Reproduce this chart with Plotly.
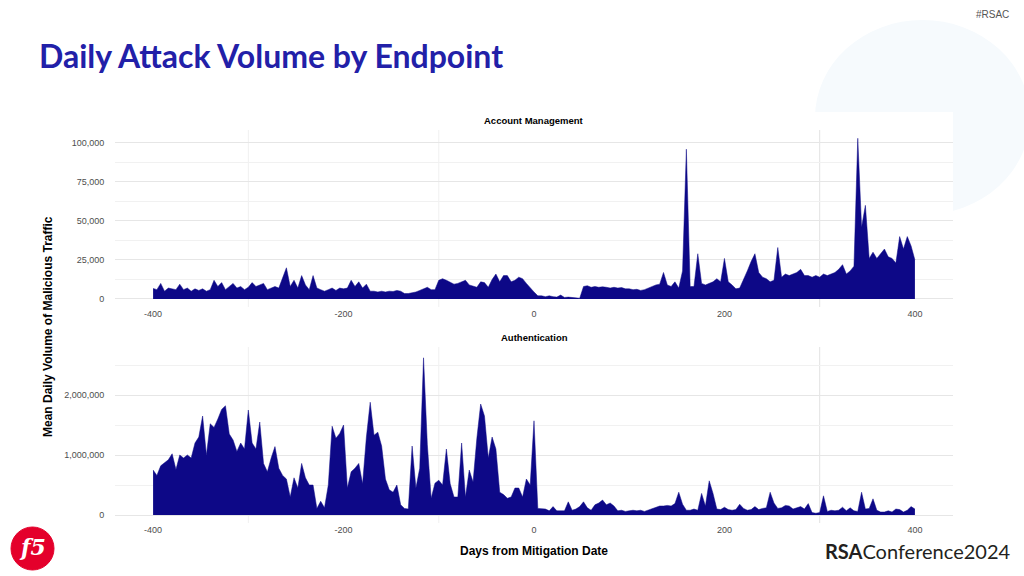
import plotly.graph_objects as go

W, H = 1024, 576

# ---------------- data ----------------
days = list(range(-400, 401, 4))

account_mgmt = [
    6800, 6000, 10000, 5000, 7000, 6500, 6000, 9500, 6000, 7000,      # -400..-364
    5000, 6500, 5500, 6500, 5000, 6000, 12000, 8000, 10500, 6000,     # -360..-324
    8000, 10000, 7000, 8000, 6000, 7500, 10500, 8000, 9000, 10000,    # -320..-284
    6000, 7000, 8000, 7000, 13000, 20000, 8000, 12000, 7000, 15000,   # -280..-244
    9000, 6000, 15000, 7000, 6000, 5000, 6000, 7000, 5500, 7000,      # -240..-204
    6500, 7000, 12000, 8000, 11000, 7000, 9500, 5000, 5000, 4500,     # -200..-164
    5000, 4500, 5000, 4800, 5500, 5000, 3500, 3500, 4000, 4500,       # -160..-124
    5500, 6500, 7500, 6000, 6000, 12000, 13000, 12000, 11000, 9500,   # -120..-84
    10000, 11000, 12000, 9000, 8000, 7500, 11000, 10500, 7500, 12500, # -80..-44
    16000, 11000, 15000, 15000, 11000, 12000, 14000, 13000, 10000, 7000,  # -40..-4
    4500, 2000, 2000, 1500, 2000, 1500, 1200, 2500, 1000, 1200,       # 0..36
    1000, 800, 500, 8000, 8500, 7500, 8000, 7500, 7800, 7500,         # 40..76
    7000, 7500, 7000, 7300, 6500, 6500, 6000, 6200, 5500, 6000,       # 80..116
    7000, 8500, 9000, 9500, 17000, 9000, 8000, 11000, 7000, 18000,    # 120..156
    96000, 8000, 8000, 29000, 10000, 9000, 10000, 11000, 13000, 11000,  # 160..196
    26000, 11000, 9000, 6500, 7000, 12000, 18000, 24000, 29000, 17000,  # 200..236
    14000, 13000, 11000, 12000, 33000, 14000, 16000, 15000, 16000, 17000,  # 240..276
    19000, 15000, 15000, 14000, 15000, 14000, 16000, 15000, 16000, 17000,  # 280..316
    19000, 22000, 16000, 18000, 21000, 103000, 46000, 60000, 26000, 30000,  # 320..356
    26000, 29000, 32000, 27000, 26000, 23000, 40000, 32000, 40000, 34000,  # 360..396
    25000,                                                             # 400
]

authentication = [
    750000, 660000, 820000, 870000, 920000, 1020000, 760000, 1000000, 950000, 1000000,   # -400..-364
    950000, 1200000, 1300000, 1650000, 1000000, 1520000, 1460000, 1600000, 1760000, 1820000,  # -360..-324
    1350000, 1250000, 1060000, 1200000, 1100000, 1750000, 1200000, 1100000, 1550000, 860000,  # -320..-284
    720000, 950000, 1140000, 780000, 660000, 600000, 300000, 620000, 450000, 860000,     # -280..-244
    620000, 500000, 500000, 110000, 230000, 120000, 500000, 1480000, 1280000, 1360000,   # -240..-204
    1500000, 450000, 720000, 780000, 860000, 520000, 1300000, 1880000, 1330000, 1380000, # -200..-164
    1150000, 600000, 420000, 380000, 500000, 170000, 110000, 100000, 1150000, 450000,    # -160..-124
    780000, 2620000, 1170000, 280000, 530000, 580000, 500000, 1100000, 520000, 300000,   # -120..-84
    300000, 1200000, 300000, 750000, 550000, 1280000, 1850000, 1650000, 950000, 1300000, # -80..-44
    1100000, 380000, 340000, 280000, 300000, 450000, 450000, 300000, 600000, 500000,     # -40..-4
    1570000, 110000, 110000, 100000, 70000, 140000, 70000, 70000, 70000, 220000,         # 0..36
    80000, 100000, 140000, 220000, 120000, 80000, 170000, 200000, 250000, 170000,        # 40..76
    200000, 150000, 70000, 80000, 60000, 70000, 80000, 70000, 80000, 60000,              # 80..116
    80000, 100000, 120000, 150000, 150000, 160000, 150000, 190000, 380000, 180000,       # 120..156
    80000, 80000, 100000, 80000, 360000, 150000, 570000, 360000, 100000, 90000,          # 160..196
    130000, 90000, 80000, 90000, 180000, 110000, 80000, 90000, 140000, 90000,            # 200..236
    110000, 120000, 380000, 200000, 110000, 120000, 160000, 150000, 100000, 120000,      # 240..276
    140000, 100000, 190000, 40000, 30000, 40000, 320000, 60000, 80000, 70000,            # 280..316
    80000, 130000, 70000, 120000, 70000, 60000, 380000, 100000, 110000, 270000,          # 320..356
    80000, 50000, 50000, 70000, 50000, 100000, 90000, 50000, 80000, 140000,              # 360..396
    100000,                                                                               # 400
]

panel_titles = ["Account Management", "Authentication"]
x_tick_vals = [-400, -200, 0, 200, 400]
x_tick_text = ["-400", "-200", "0", "200", "400"]
top_y_ticks = [0, 25000, 50000, 75000, 100000]
bottom_y_ticks = [0, 1000000, 2000000]
background_vlines = [-300, -100, 300]

AREA = "#0d0887"
TICK_FONT = dict(family="Liberation Sans, Arial, sans-serif", size=9, color="#4d4d4d")


def px_x(p):
    return p / W


def px_y(p):
    return 1 - p / H


fig = go.Figure()
fig.add_trace(go.Scatter(x=days, y=account_mgmt, mode="lines", fill="tozeroy",
                         line=dict(color=AREA, width=0.5), fillcolor=AREA,
                         xaxis="x", yaxis="y", hoverinfo="skip", showlegend=False))
fig.add_trace(go.Scatter(x=days, y=authentication, mode="lines", fill="tozeroy",
                         line=dict(color=AREA, width=0.5), fillcolor=AREA,
                         xaxis="x2", yaxis="y2", hoverinfo="skip", showlegend=False))

xdom = [px_x(115), px_x(953)]
common_x = dict(domain=xdom, range=[-440, 440], showgrid=False, zeroline=False,
                tickvals=x_tick_vals, ticktext=x_tick_text, tickfont=TICK_FONT,
                ticks="", showline=False)

fig.update_layout(
    width=W, height=H, margin=dict(l=0, r=0, t=0, b=0),
    paper_bgcolor="white", plot_bgcolor="rgba(0,0,0,0)",
    xaxis=dict(common_x, anchor="y"),
    xaxis2=dict(common_x, anchor="y2"),
    yaxis=dict(domain=[px_y(307), px_y(130)], range=[-5130, 108300],
               tickvals=top_y_ticks, tickformat=",", tickfont=TICK_FONT,
               ticks="outside", ticklen=8, tickcolor="rgba(0,0,0,0)",
               showgrid=True, gridcolor="#e6e6e6", gridwidth=1, zeroline=False,
               minor=dict(dtick=12500, tick0=0, showgrid=True, gridcolor="#f1f1f1", gridwidth=1),
               anchor="x"),
    yaxis2=dict(domain=[px_y(523), px_y(347)], range=[-133000, 2800000],
                tickvals=bottom_y_ticks, tickformat=",", tickfont=TICK_FONT,
                ticks="outside", ticklen=8, tickcolor="rgba(0,0,0,0)",
                showgrid=True, gridcolor="#e6e6e6", gridwidth=1, zeroline=False,
                minor=dict(dtick=500000, tick0=0, showgrid=True, gridcolor="#f1f1f1", gridwidth=1),
                anchor="x2"),
)

shapes = []
# soft slide decoration (top right)
shapes.append(dict(type="circle", xref="paper", yref="paper", layer="below",
                   x0=px_x(815), x1=px_x(1030), y0=px_y(215), y1=px_y(20),
                   fillcolor="#f6fafd", line=dict(width=0)))
# white chart card
shapes.append(dict(type="rect", xref="paper", yref="paper", layer="below",
                   x0=px_x(38), x1=px_x(953), y0=0, y1=px_y(112),
                   fillcolor="white", line=dict(width=0)))
for ax in ["y", "y2"]:
    xa = "x" if ax == "y" else "x2"
    for v in background_vlines:
        shapes.append(dict(type="line", xref=xa, yref=ax + " domain", layer="below",
                           x0=v, x1=v, y0=0, y1=1,
                           line=dict(color="#e2e2e2" if v == 300 else "#f0f0f0", width=1)))
# F5 logo disc
shapes.append(dict(type="circle", xref="paper", yref="paper", layer="above",
                   x0=px_x(11), x1=px_x(54), y0=px_y(570), y1=px_y(527),
                   fillcolor="#e4002b", line=dict(color="#e4002b", width=1)))
fig.update_layout(shapes=shapes)

ann = []
ann.append(dict(text="<b>Daily Attack Volume by Endpoint</b>", x=px_x(37), y=px_y(56),
                xref="paper", yref="paper", xanchor="left", yanchor="middle", showarrow=False,
                font=dict(family="Lato, sans-serif", size=32, color="#2220a8")))
ann.append(dict(text="#RSAC", x=px_x(1011), y=px_y(14), xref="paper", yref="paper",
                xanchor="right", yanchor="middle", showarrow=False,
                font=dict(family="Liberation Sans Narrow, Liberation Sans, sans-serif", size=10, color="#555555")))
ann.append(dict(text="<b>" + panel_titles[0] + "</b>", x=px_x(534), y=px_y(120),
                xref="paper", yref="paper", xanchor="center", yanchor="middle", showarrow=False,
                font=dict(family="Liberation Sans, Arial, sans-serif", size=9.5, color="black")))
ann.append(dict(text="<b>" + panel_titles[1] + "</b>", x=px_x(534), y=px_y(337),
                xref="paper", yref="paper", xanchor="center", yanchor="middle", showarrow=False,
                font=dict(family="Liberation Sans, Arial, sans-serif", size=9.5, color="black")))
ann.append(dict(text="<b>Days from Mitigation Date</b>", x=px_x(534), y=px_y(551),
                xref="paper", yref="paper", xanchor="center", yanchor="middle", showarrow=False,
                font=dict(family="Liberation Sans, Arial, sans-serif", size=12, color="black")))
ann.append(dict(text="<b>Mean Daily Volume of Malicious Traffic</b>", x=px_x(48), y=px_y(327),
                xref="paper", yref="paper", xanchor="center", yanchor="middle", showarrow=False,
                textangle=-90,
                font=dict(family="Liberation Sans, Arial, sans-serif", size=12, color="black")))
ann.append(dict(text="<b>RSA</b>Conference2024", x=px_x(1012), y=px_y(551),
                xref="paper", yref="paper", xanchor="right", yanchor="middle", showarrow=False,
                font=dict(family="Lato, sans-serif", size=20, color="#231f20")))
ann.append(dict(text="<b><i>f5</i></b>", x=px_x(32), y=px_y(547),
                xref="paper", yref="paper", xanchor="center", yanchor="middle", showarrow=False,
                font=dict(family="DejaVu Serif, serif", size=22, color="white")))
fig.update_layout(annotations=ann)

fig.write_html("out.html")
